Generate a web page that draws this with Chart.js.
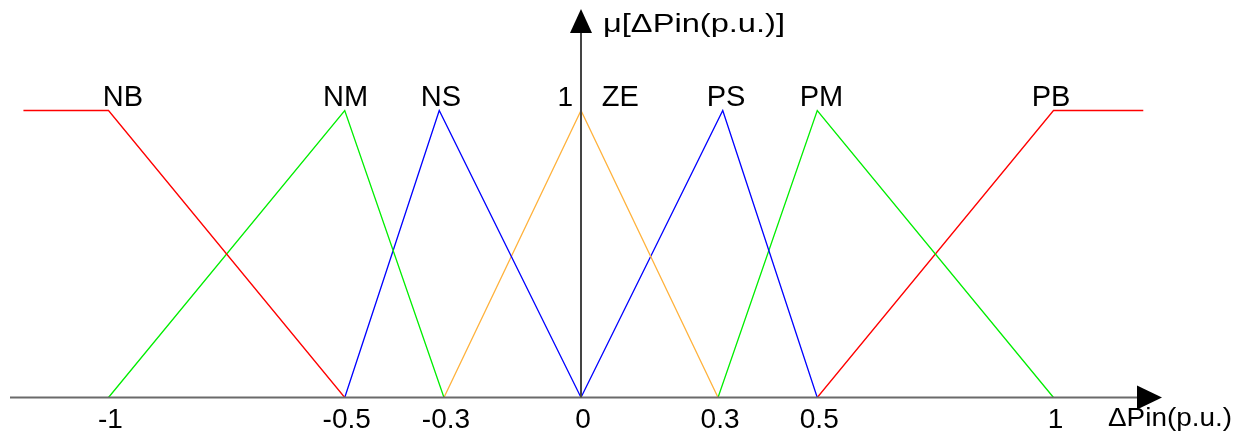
<!DOCTYPE html>
<html>
<head>
<meta charset="utf-8">
<script src="https://cdn.jsdelivr.net/npm/chart.js@4.4.1/dist/chart.umd.min.js"></script>
<style>
  html, body { margin: 0; padding: 0; background: #fff; }
  #wrap { width: 1247px; height: 441px; }
</style>
</head>
<body>
<div id="wrap"><canvas id="chart"></canvas></div>
<script>
// membership functions of dPin
const setNames = ['NB', 'NM', 'NS', 'ZE', 'PS', 'PM', 'PB']
const nbX = [-1.18, -1, -0.5]
const nbY = [1, 1, 0]
const nmX = [-1, -0.5, -0.29]
const nmY = [0, 1, 0]
const nsX = [-0.5, -0.3, 0]
const nsY = [0, 1, 0]
const zeX = [-0.29, 0, 0.29]
const zeY = [0, 1, 0]
const psX = [0, 0.3, 0.5]
const psY = [0, 1, 0]
const pmX = [0.29, 0.5, 1]
const pmY = [0, 1, 0]
const pbX = [0.5, 1, 1.19]
const pbY = [0, 1, 1]

const tickValues = [-1, -0.5, -0.29, 0, 0.29, 0.5, 1]
const tickLabels = ['-1', '-0.5', '-0.3', '0', '0.3', '0.5', '1']

const colors = ['#ff0000', '#00ee00', '#0000ff', '#ffb23c', '#0000ff', '#00ee00', '#ff0000']
const allX = [nbX, nmX, nsX, zeX, psX, pmX, pbX]
const allY = [nbY, nmY, nsY, zeY, psY, pmY, pbY]

function toPoints(xs, ys) {
    return xs.map((x, i) => ({ x: x, y: ys[i] }))
}

// where the set names sit (left edge, data units)
const nameLeft = [-1.012, -0.546, -0.339, 0.044, 0.266, 0.463, 0.954]

const FAMILY = '"Liberation Sans", Arial, sans-serif'

// draw text squeezed/stretched to a given width
function fillStretched(ctx, text, x, y, width) {
    const w = ctx.measureText(text).width
    ctx.save()
    ctx.translate(x, y)
    ctx.scale(width / w, 1)
    ctx.fillText(text, 0, 0)
    ctx.restore()
}

const axesPlugin = {
    id: 'axes',
    afterDatasetsDraw(chart) {
        const ctx = chart.ctx
        const xs = chart.scales.x
        const ys = chart.scales.y
        const x0 = xs.getPixelForValue(0)
        const y0 = ys.getPixelForValue(0)
        const y1 = ys.getPixelForValue(1)
        ctx.save()

        // horizontal axis
        ctx.strokeStyle = '#6a6a6a'
        ctx.lineWidth = 2
        ctx.beginPath()
        ctx.moveTo(10, y0)
        ctx.lineTo(1140, y0)
        ctx.stroke()
        ctx.fillStyle = '#000'
        ctx.beginPath()
        ctx.moveTo(1137, y0 - 12)
        ctx.lineTo(1162, y0)
        ctx.lineTo(1137, y0 + 12)
        ctx.closePath()
        ctx.fill()

        // vertical axis
        ctx.strokeStyle = '#444'
        ctx.beginPath()
        ctx.moveTo(x0, y0)
        ctx.lineTo(x0, 30)
        ctx.stroke()
        ctx.beginPath()
        ctx.moveTo(x0 - 11, 33)
        ctx.lineTo(x0, 9)
        ctx.lineTo(x0 + 11, 33)
        ctx.closePath()
        ctx.fill()

        ctx.fillStyle = '#000'
        ctx.textBaseline = 'alphabetic'

        // tick labels
        ctx.font = '28px ' + FAMILY
        ctx.textAlign = 'center'
        tickValues.forEach((v, i) => {
            ctx.fillText(tickLabels[i], xs.getPixelForValue(v) + 2, 428)
        })

        // "1" on the vertical axis
        ctx.textAlign = 'right'
        ctx.fillText('1', x0 - 8, y1 - 4)

        // set names
        ctx.font = '29px ' + FAMILY
        ctx.textAlign = 'left'
        setNames.forEach((n, i) => {
            ctx.fillText(n, xs.getPixelForValue(nameLeft[i]), y1 - 4)
        })

        // axis titles
        ctx.font = '25px ' + FAMILY
        fillStretched(ctx, 'ΔPin(p.u.)', 1108, 426, 124)
        ctx.font = '26px ' + FAMILY
        fillStretched(ctx, 'μ[ΔPin(p.u.)]', 603, 32, 182)
        ctx.restore()
    }
}

const ctx = document.getElementById('chart').getContext('2d')
const myChart = new Chart(ctx, {
    type: 'scatter',
    data: {
        datasets: setNames.map((n, i) => ({
            label: n,
            data: toPoints(allX[i], allY[i]),
            showLine: true,
            borderColor: colors[i],
            backgroundColor: colors[i],
            borderWidth: 1.3,
            pointRadius: 0,
            tension: 0,
            fill: false
        }))
    },
    options: {
        responsive: true,
        maintainAspectRatio: false,
        animation: false,
        layout: { padding: 0 },
        plugins: {
            legend: { display: false },
            tooltip: { enabled: false }
        },
        scales: {
            x: { type: 'linear', display: false, min: -1.2296, max: 1.4095 },
            y: { type: 'linear', display: false, min: -0.1516, max: 1.385 }
        }
    },
    plugins: [axesPlugin]
});
</script>
</body>
</html>
